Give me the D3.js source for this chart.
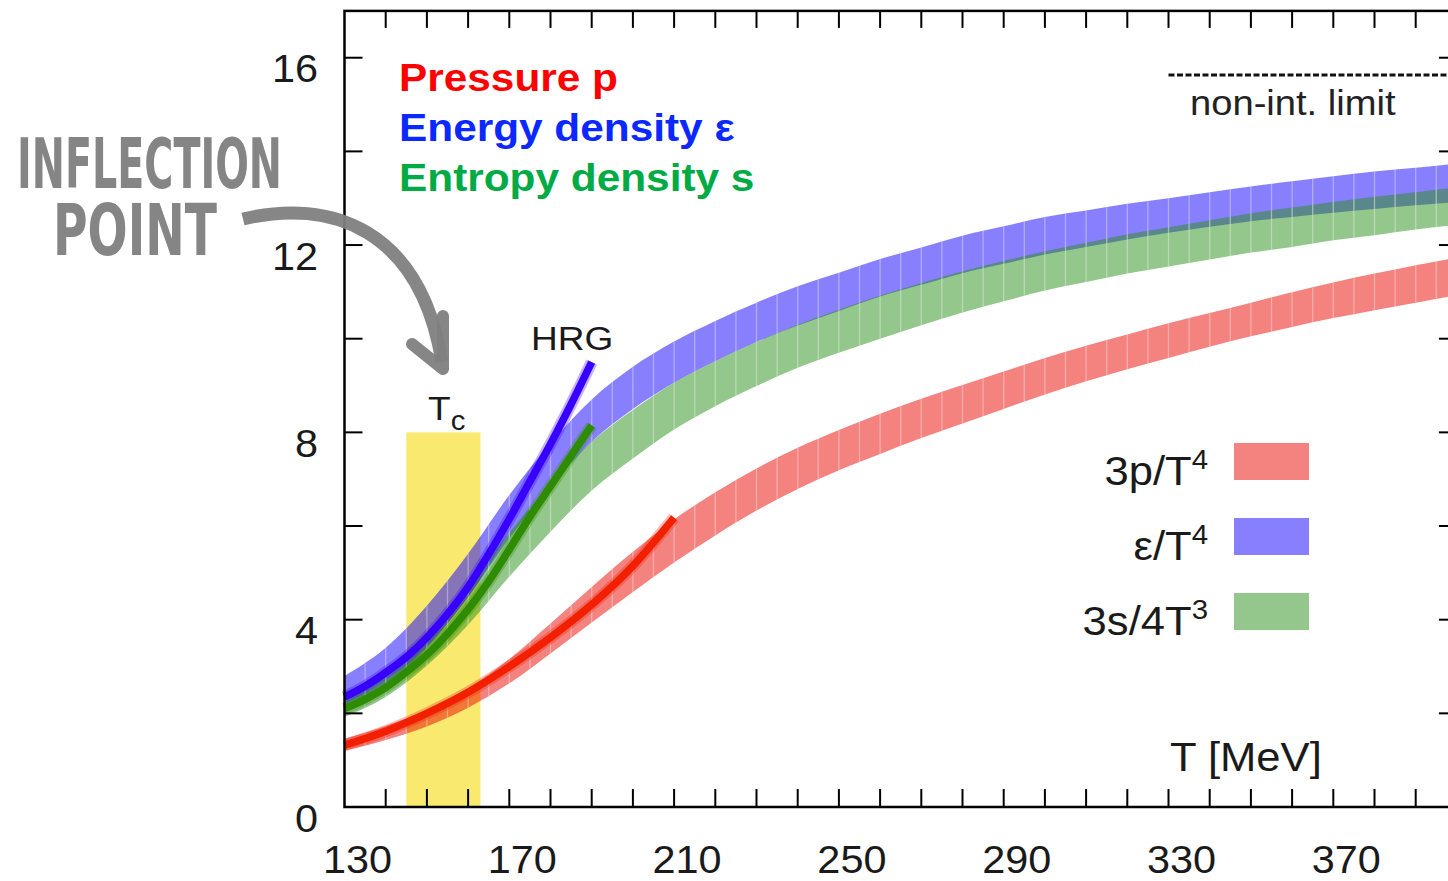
<!DOCTYPE html>
<html>
<head>
<meta charset="utf-8">
<script src="https://cdn.jsdelivr.net/npm/d3@7"></script>
<style>
  body { margin: 0; background: #fff; }
  svg { display: block; font-family: "Liberation Sans", Arial, sans-serif; }
</style>
</head>
<body>
<div id="chart"></div>
<script>
// Lattice QCD equation of state - bands

// Temperature grid for the lattice bands (MeV)
const temps = [130, 140, 150, 160, 170, 180, 190, 200, 210, 220, 230, 240, 250, 260,
               270, 280, 290, 300, 310, 320, 330, 340, 350, 360, 370, 380, 390, 400];

// 3p/T^4 (centre and half width)
const pMid = [1.33, 1.58, 1.9, 2.33, 2.9, 3.6, 4.32, 5.02, 5.68, 6.26, 6.78, 7.23, 7.62, 7.97,
              8.3, 8.6, 8.9, 9.2, 9.47, 9.72, 9.96, 10.19, 10.41, 10.62, 10.82, 11.0, 11.17, 11.33];
const pErr = [0.13, 0.15, 0.18, 0.21, 0.26, 0.32, 0.38, 0.43, 0.46, 0.46, 0.45, 0.44, 0.43, 0.43,
              0.42, 0.41, 0.4, 0.39, 0.38, 0.37, 0.37, 0.36, 0.36, 0.37, 0.38, 0.39, 0.4, 0.4];

// e/T^4
const eMid = [2.45, 3.0, 3.85, 4.95, 6.2, 7.3, 8.25, 8.95, 9.5, 9.95, 10.35, 10.7, 11.0, 11.3,
              11.55, 11.8, 12.0, 12.2, 12.35, 12.5, 12.63, 12.76, 12.88, 12.98, 13.08, 13.17, 13.25, 13.33];
const eErr = [0.35, 0.4, 0.45, 0.46, 0.46, 0.46, 0.45, 0.45, 0.44, 0.43, 0.42, 0.42, 0.41, 0.4,
              0.4, 0.4, 0.4, 0.4, 0.39, 0.38, 0.37, 0.37, 0.37, 0.38, 0.39, 0.4, 0.4, 0.41];

// 3s/4T^3
const sMid = [2.17, 2.65, 3.38, 4.31, 5.39, 6.38, 7.28, 7.96, 8.56, 9.04, 9.46, 9.84, 10.16, 10.46,
              10.74, 11.0, 11.23, 11.45, 11.63, 11.81, 11.96, 12.11, 12.26, 12.38, 12.51, 12.62, 12.73, 12.83];
const sErr = [0.25, 0.3, 0.36, 0.42, 0.47, 0.5, 0.52, 0.52, 0.5, 0.48, 0.47, 0.46, 0.46, 0.46,
              0.45, 0.44, 0.43, 0.42, 0.42, 0.42, 0.42, 0.42, 0.42, 0.42, 0.41, 0.41, 0.4, 0.4];

// Hadron resonance gas curves
const hrgT = [130, 135, 140, 145, 150, 155, 160, 165, 170, 175, 180, 185, 190];
const hrgE = [2.35, 2.58, 2.87, 3.2, 3.62, 4.12, 4.7, 5.4, 6.15, 6.95, 7.75, 8.6, 9.5];
const hrgS = [2.1, 2.3, 2.55, 2.88, 3.25, 3.7, 4.22, 4.82, 5.5, 6.2, 6.85, 7.5, 8.15];
const hrgPT = [130, 140, 150, 160, 170, 180, 190, 200, 210];
const hrgP = [1.32, 1.62, 2.0, 2.45, 3.0, 3.62, 4.32, 5.15, 6.18];

// Crossover region and Stefan-Boltzmann limit
const tcRange = [145, 163];
const tcTop = 8;
const sbLimit = 15.63;
const sbStart = 330;

// Axis ticks
const xMinorTicks = d3.range(140, 400, 10);
const xLabels = [130, 170, 210, 250, 290, 330, 370];
const yTicks = [2, 4, 6, 8, 10, 12, 14, 16];
const yLabels = [0, 4, 8, 12, 16];

const W = 1448, H = 881;
const svg = d3.select("#chart").append("svg")
  .attr("width", W).attr("height", H);

const x = d3.scaleLinear().domain([130, 400]).range([344.5, 1456.9]);
const y = d3.scaleLinear().domain([0, 17]).range([807, 10.9]);

// the reference text is drawn slightly wide
function label(parent, px, py, txt, size, anchor, sx) {
  return parent.append("text")
    .attr("transform", "translate(" + px + "," + py + ") scale(" + (sx || 1.09) + ",1)")
    .attr("font-size", size)
    .attr("text-anchor", anchor || "start")
    .text(txt);
}

const defs = svg.append("defs");

// Tc band
svg.append("rect")
  .attr("x", x(tcRange[0]))
  .attr("y", y(tcTop))
  .attr("width", x(tcRange[1]) - x(tcRange[0]))
  .attr("height", y(0) - y(tcTop))
  .attr("fill", "#f9e96f");

// Lattice bands
const bands = [
  { id: "p", mid: pMid, err: pErr, color: "rgb(233,5,0)" },
  { id: "e", mid: eMid, err: eErr, color: "rgb(17,0,255)" },
  { id: "s", mid: sMid, err: sErr, color: "rgb(41,143,25)" }
];

const area = d3.area()
  .x(d => x(d.t))
  .y0(d => y(d.mid - d.err))
  .y1(d => y(d.mid + d.err))
  .curve(d3.curveMonotoneX);

bands.forEach(b => {
  const rows = temps.map((t, i) => ({ t: t, mid: b.mid[i], err: b.err[i] }));
  const d = area(rows);
  defs.append("clipPath").attr("id", "clip-" + b.id)
    .append("path").attr("d", d);

  const g = svg.append("g");
  g.append("path")
    .attr("d", d)
    .attr("fill", b.color)
    .attr("fill-opacity", 0.5);

  // thin light seams between the band segments
  g.append("g")
    .attr("clip-path", "url(#clip-" + b.id + ")")
    .selectAll("line")
    .data(d3.range(135, 400, 5))
    .join("line")
    .attr("x1", t => x(t)).attr("x2", t => x(t))
    .attr("y1", y(17)).attr("y2", y(0))
    .attr("stroke", "#fff")
    .attr("stroke-opacity", 0.35)
    .attr("stroke-width", 1.3);
});

// HRG lines
const line = d3.line()
  .x(d => x(d[0]))
  .y(d => y(d[1]))
  .curve(d3.curveMonotoneX);

const hrgLines = [
  { pts: hrgT.map((t, i) => [t, hrgE[i]]), color: "rgb(55,0,255)" },
  { pts: hrgT.map((t, i) => [t, hrgS[i]]), color: "rgb(46,140,0)" },
  { pts: hrgPT.map((t, i) => [t, hrgP[i]]), color: "rgb(242,32,0)" }
];

hrgLines.forEach(l => {
  svg.append("path")
    .attr("d", line(l.pts))
    .attr("fill", "none")
    .attr("stroke", l.color)
    .attr("stroke-opacity", 0.3)
    .attr("stroke-width", 12);
  svg.append("path")
    .attr("d", line(l.pts))
    .attr("fill", "none")
    .attr("stroke", l.color)
    .attr("stroke-width", 7.5);
});

// Non-interacting limit
svg.append("line")
  .attr("x1", x(sbStart)).attr("x2", x(400))
  .attr("y1", y(sbLimit)).attr("y2", y(sbLimit))
  .attr("stroke", "#111")
  .attr("stroke-width", 3)
  .attr("stroke-dasharray", "6,2.5");

label(svg, 1190, 115, "non-int. limit", 35).attr("fill", "#222");

// Frame and ticks
const axes = svg.append("g").attr("stroke", "#000");
axes.append("rect")
  .attr("x", x(130)).attr("y", y(17))
  .attr("width", x(400) - x(130)).attr("height", y(0) - y(17))
  .attr("fill", "none")
  .attr("stroke-width", 2.5);

axes.selectAll(".xb").data(xMinorTicks).join("line")
  .attr("x1", d => x(d)).attr("x2", d => x(d))
  .attr("y1", y(0)).attr("y2", y(0) - 18)
  .attr("stroke-width", 2);
axes.selectAll(".xt").data(xMinorTicks).join("line")
  .attr("x1", d => x(d)).attr("x2", d => x(d))
  .attr("y1", y(17)).attr("y2", y(17) + 17)
  .attr("stroke-width", 2);
axes.selectAll(".yl").data(yTicks).join("line")
  .attr("x1", x(130)).attr("x2", x(130) + 18)
  .attr("y1", d => y(d)).attr("y2", d => y(d))
  .attr("stroke-width", 2);
axes.selectAll(".yr").data(yTicks).join("line")
  .attr("x1", x(400)).attr("x2", x(400) - 18)
  .attr("y1", d => y(d)).attr("y2", d => y(d))
  .attr("stroke-width", 2);

const tickText = svg.append("g").attr("fill", "#1a1a1a");
xLabels.forEach(v => label(tickText, x(v) + 13, 873, v, 38, "middle"));
yLabels.forEach(v => label(tickText, 318, y(v) + 24.5, v, 38, "end"));

label(svg, 1170, 771, "T [MeV]", 40).attr("fill", "#1a1a1a");

// Labels in the plot
label(svg, 531, 350, "HRG", 34).attr("fill", "#1a1a1a");
const tc = label(svg, 428, 420, "T", 34).attr("fill", "#1a1a1a");
tc.append("tspan").attr("font-size", 27).attr("dy", 10).text("c");

// Top-left legend
const names = [
  { txt: "Pressure p", color: "#ff0000" },
  { txt: "Energy density ε", color: "#0a28ff" },
  { txt: "Entropy density s", color: "#00aa45" }
];
names.forEach((n, i) => {
  label(svg, 399, 91 + i * 50, n.txt, 38, "start", 1.115)
    .attr("font-weight", "bold")
    .attr("fill", n.color);
});

// Right legend
const keys = [
  { base: "3p/T", sup: "4", band: "p" },
  { base: "ε/T", sup: "4", band: "e" },
  { base: "3s/4T", sup: "3", band: "s" }
];
keys.forEach((k, i) => {
  const b = bands.find(bb => bb.id === k.band);
  const cy = 461.5 + i * 75;
  svg.append("rect")
    .attr("x", 1234).attr("y", cy - 18.5)
    .attr("width", 75).attr("height", 37)
    .attr("fill", b.color).attr("fill-opacity", 0.5);
  const t = label(svg, 1208, cy + 23, k.base, 40, "end").attr("fill", "#1a1a1a");
  t.append("tspan").attr("font-size", 27).attr("dy", -16).text(k.sup);
});

// Hand-drawn annotation
const note = svg.append("g")
  .attr("fill", "#7b7b7b")
  .attr("opacity", 0.92)
  .attr("font-family", "'DejaVu Sans Condensed', 'DejaVu Sans', sans-serif")
  .attr("font-weight", "bold");
note.append("text")
  .attr("x", 17).attr("y", 188)
  .attr("font-size", 70)
  .attr("textLength", 265)
  .attr("lengthAdjust", "spacingAndGlyphs")
  .text("INFLECTION");
note.append("text")
  .attr("x", 53).attr("y", 255)
  .attr("font-size", 72)
  .attr("textLength", 164)
  .attr("lengthAdjust", "spacingAndGlyphs")
  .text("POINT");

svg.append("path")
  .attr("d", "M243,219 C330,198 420,228 442,362")
  .attr("fill", "none")
  .attr("stroke", "#808080")
  .attr("stroke-width", 13)
  .attr("stroke-opacity", 0.95);
svg.append("path")
  .attr("d", "M412,344 L443,369 L443,316")
  .attr("fill", "none")
  .attr("stroke", "#808080")
  .attr("stroke-width", 12)
  .attr("stroke-linejoin", "round")
  .attr("stroke-linecap", "round")
  .attr("stroke-opacity", 0.95);
</script>
</body>
</html>
